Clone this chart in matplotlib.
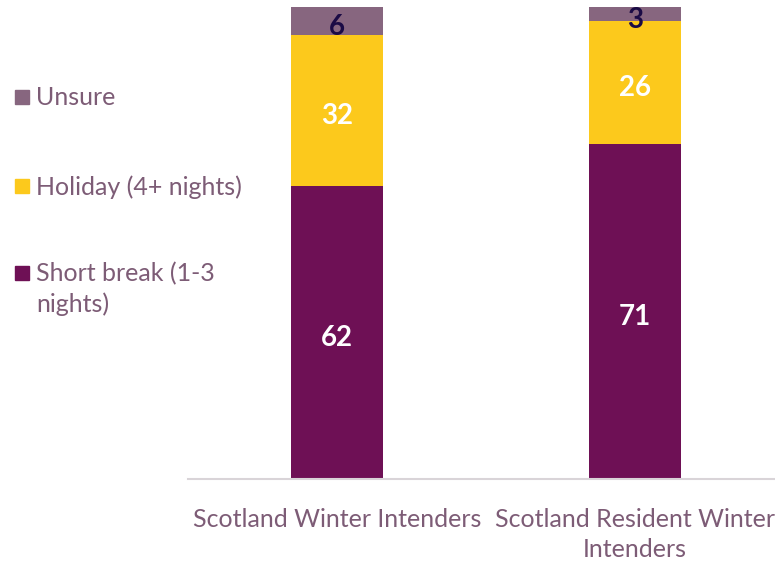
import matplotlib
matplotlib.use("Agg")
import matplotlib.pyplot as plt
from matplotlib.patches import Rectangle
from matplotlib.transforms import offset_copy

categories = ["Scotland Winter Intenders", "Scotland Resident Winter\nIntenders"]
series_names = ["Short break (1-3\nnights)", "Holiday (4+ nights)", "Unsure"]
short_break = [62, 71]
holiday = [32, 26]
unsure = [6, 3]

colors = ["#6E1055", "#FCC91C", "#87667F"]
label_colors = ["white", "white", "#1B0B45"]
text_color = "#7D5C76"

plt.rcParams['font.family'] = ['Lato', 'DejaVu Sans']

fig = plt.figure(figsize=(7.75, 5.61), dpi=100)
ax = fig.add_axes([188/775, (561-479)/561, 1 - 188/775, (479-7)/561])
lab_tr = offset_copy(ax.transData, fig=fig, x=0, y=-4, units='points')

x = list(range(len(categories)))
width = 0.309
bottoms = [0] * len(categories)
for vals, col, lc in zip([short_break, holiday, unsure], colors, label_colors):
    ax.bar(x, vals, width=width, bottom=bottoms, color=col, zorder=2)
    for xi, v, b in zip(x, vals, bottoms):
        ax.text(xi, b + v / 2, str(v), ha='center', va='center', color=lc,
                fontsize=20, fontweight='bold', zorder=3, transform=lab_tr)
    bottoms = [b + v for b, v in zip(bottoms, vals)]

ax.set_xlim(-0.5, 1.47)
ax.set_ylim(0, 100)
ax.set_yticks([])
ax.set_xticks(x)
ax.set_xticklabels(categories, color=text_color, fontsize=18, linespacing=1.35)
ax.tick_params(axis='x', length=0, pad=21)
for s in ['top', 'right', 'left']:
    ax.spines[s].set_visible(False)
ax.spines['bottom'].set_color('#D9D4D8')
ax.spines['bottom'].set_linewidth(1.5)

# legend (manual)
legend_items = [("Unsure", colors[2], 97), ("Holiday (4+ nights)", colors[1], 186),
                ("Short break (1-3\nnights)", colors[0], 273)]
for name, col, ypix in legend_items:
    fig.patches.append(Rectangle((15/775, 1 - (ypix + 7)/561), 14/775, 14/561,
                                 transform=fig.transFigure, color=col, figure=fig))
    fig.text(36/775, 1 - (ypix - 11)/561, name, color=text_color, fontsize=18,
             va='top', ha='left', linespacing=1.35)

fig.savefig("out.png", dpi=100)
